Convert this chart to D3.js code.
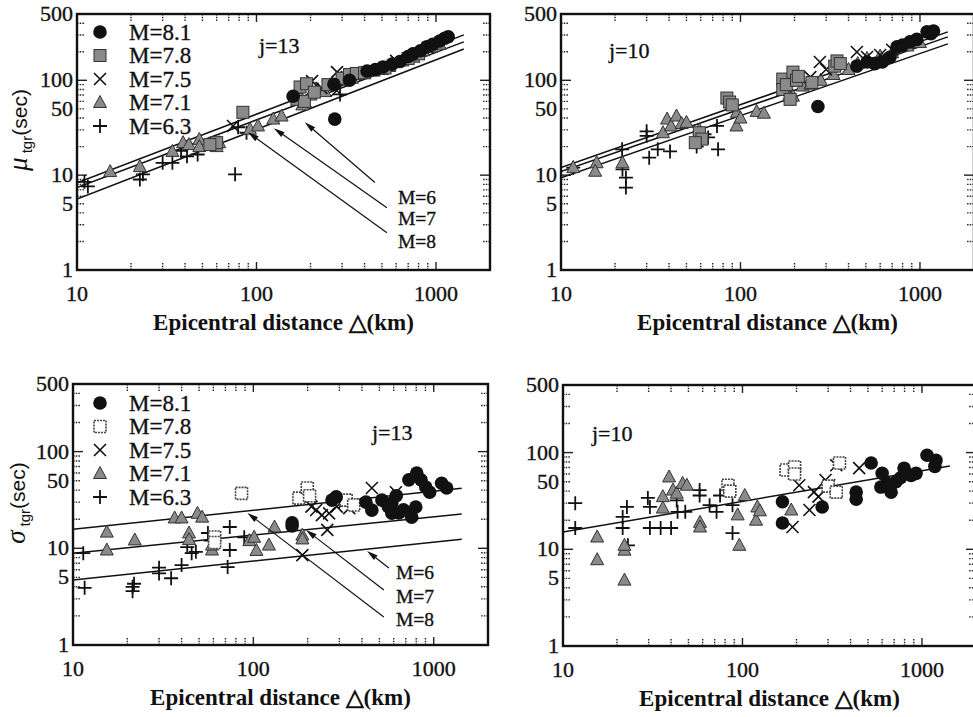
<!DOCTYPE html>
<html>
<head>
<meta charset="utf-8">
<script src="https://cdn.jsdelivr.net/npm/d3@7"></script>
<style>
  body { margin: 0; background: #fff; }
  svg { display: block; }
</style>
</head>
<body>
<svg id="fig" width="973" height="717"></svg>
<script>
// ---- categories and tick labels ----
const magnitudes = ["M=8.1", "M=7.8", "M=7.5", "M=7.1", "M=6.3"];
const markerKinds = ["circle", "square", "times", "triangle", "plus"];
const xTickLabels = [10, 100, 1000];
const yTickLabels = [1, 5, 10, 50, 100, 500];
const fitSpan = [10, 1430];          // distance range covered by fitted lines (km)

// ---- mean duration μ, j=13: [distance km, seconds] per magnitude ----
const muJ13_M81 = [[160,68],[270,91],[273,39],[330,100],[413,125],[460,130],[507,138],[570,148],[631,158],[700,178],[745,190],[820,205],[890,225],[960,240],[1050,260],[1120,278],[1170,288]];
const muJ13_M78 = [[84,46],[60,22],[55,21],[168,63],[175,85],[185,60],[190,92],[210,75],[250,90],[300,105],[330,115],[360,118],[400,120],[520,135],[700,170],[800,190]];
const muJ13_M75 = [[74,33],[204,98],[230,83],[281,122],[319,108],[350,115],[280,78],[600,160],[900,220]];
const muJ13_M71 = [[15.3,10.9],[22.4,12.3],[34,17.8],[39,22],[42,21],[48,23.8],[48,20],[60,20],[62,22],[92,30.5],[102,33],[124,39],[138,42],[180,55],[186,59],[200,70],[220,80],[240,76],[260,88],[300,100],[340,105],[380,118],[450,125],[500,130],[550,140],[650,160],[750,175],[850,205],[950,225],[1050,240]];
const muJ13_M63 = [[11.5,7.6],[11,8.5],[22.4,9],[23.3,10.2],[30,13.5],[34,13.5],[41,15.8],[47,16.5],[38,18],[76,10.2],[79,32],[88,28],[292,71]];

// ---- mean duration μ, j=10 ----
const muJ10_M81 = [[270,53],[445,141],[507,156],[560,150],[617,156],[680,175],[745,225],[800,235],[880,254],[960,270],[1095,324],[1150,310],[1190,330]];
const muJ10_M78 = [[84,65],[87,59],[90,55],[59,28],[61,24],[56,22],[172,103],[172,80],[180,90],[189,63],[196,122],[205,100],[210,110],[250,95],[335,141],[345,160],[360,150]];
const muJ10_M75 = [[245,108],[277,156],[300,130],[445,199],[507,176],[600,185],[700,210]];
const muJ10_M71 = [[11.7,12],[15.8,13.5],[15.5,11],[22,13.5],[37,28],[39,39],[41,33],[44,42],[47,35],[50,36],[59,30],[95.5,46],[95,33],[100,40],[123,47],[135,45],[186,68],[196,68],[222,87],[245,91],[280,100],[330,115],[400,130],[450,150],[507,170],[600,180],[700,195],[850,230],[1000,250]];
const muJ10_M63 = [[11.7,12],[21.9,18.7],[22,11.5],[23,9.4],[23,7.4],[30,29],[30,26],[31,15.3],[34.6,18.7],[40.5,17.8],[57,20],[63,27],[66,25],[74,33],[75,18.7]];

// ---- standard deviation σ, j=13 ----
const sdJ13_M81 = [[164,18.3],[164,17],[273,31.5],[288,34],[421,30],[454,24.8],[516,31.5],[560,27],[586,29.4],[586,23],[620,35],[641,23.2],[680,25],[728,51],[755,21],[795,26.7],[805,60],[850,51],[903,43],[950,38],[1106,47],[1180,42]];
const sdJ13_M78 = [[86,37],[179,33],[199,42],[205,35],[61,13.1],[61,11.5],[327,31.5],[360,28]];
const sdJ13_M75 = [[187,8.5],[210,27],[223,24.9],[240,22],[257,15.5],[263,23],[290,27],[320,30],[340,26],[454,42],[617,38]];
const sdJ13_M71 = [[15.4,14.7],[15.4,9.6],[22,12.2],[36.6,20.6],[40,20.6],[44,14.4],[44,12.3],[49,23],[52,21],[59,9.6],[59,10.8],[95,12],[101,13],[104,9.5],[122,10.8],[131,16.6],[187,13.7],[187,12.5]];
const sdJ13_M63 = [[11.4,8.9],[11.6,3.9],[21.4,4],[21.4,3.6],[21.8,4.3],[30,6.3],[30,5.5],[35,4.9],[40,6.7],[43,10.3],[45.5,8.9],[48,9.2],[56,14.4],[58,12],[74,16.6],[74,9.6],[72,6.4],[89,13]];

// ---- standard deviation σ, j=10 ----
const sdJ10_M81 = [[167,31],[167,18.7],[278,27.4],[430,39],[430,33],[521,78],[590,44],[600,61],[640,48],[673,39],[717,50],[760,55],[795,69],[870,58],[927,61],[1067,94],[1180,72],[1197,83]];
const sdJ10_M78 = [[175,66],[195,71],[195,60],[83,46],[85,40],[300,45],[333,39],[347,78]];
const sdJ10_M75 = [[190,17],[207,46],[236,25.5],[250,39],[265,35],[290,52],[304,46],[333,74],[447,69]];
const sdJ10_M71 = [[15.5,13.4],[15.5,7.8],[22,9.8],[22,4.8],[22,11],[36,26.7],[36,35],[39,56],[41,41],[43,38],[46.4,48],[49,46],[58,19],[58,17],[94,22.7],[96,11],[103,36],[119,20],[121,27.4],[125,25],[187,25.5]];
const sdJ10_M63 = [[11.7,30],[11.7,16.6],[21.5,21.6],[21.5,16.6],[22.7,27.4],[23,11],[29.7,34],[30.5,27.4],[30.5,16.6],[35,16.6],[40,16.6],[43,32],[43.5,24.4],[48,24.4],[57.7,41],[57.7,36],[65.6,28.6],[71.7,24.4],[75,36],[88,14.7],[88,28.6]];

// ---- fitted lines: value at each end of fitSpan, for M=6, 7, 8 ----
const fitMuJ13 = [[5.6, 214], [7.4, 254], [8.3, 301]];
const fitMuJ10 = [[9.4, 242], [10.9, 287], [12.0, 324]];
const fitSdJ13 = [[4.7, 12.4], [8.9, 22.6], [15.7, 41.7]];
const fitSdJ10 = [[15.1, 72.6]];

// ---- call-out arrows: text anchor, arrow tail, arrow head (data units) ----
const notesMu = [
  { text: "M=6", at: [614, 5.93], tail: [457, 8.35], head: [186, 36.1] },
  { text: "M=7", at: [614, 3.5], tail: [533, 4.54], head: [125, 31.2] },
  { text: "M=8", at: [614, 2.04], tail: [533, 2.47], head: [89.7, 28.3] }
];
const notesSd = [
  { text: "M=6", at: [617, 5.69], tail: [564, 6.26], head: [427, 9.38] },
  { text: "M=7", at: [617, 3.24], tail: [529, 3.7], head: [196, 15.5] },
  { text: "M=8", at: [617, 1.86], tail: [529, 1.95], head: [92.7, 23.2] }
];

// ---- panel layout ----
const SERIF = "'Liberation Serif', 'Times New Roman', serif";
const SANS = "'Liberation Sans', Arial, sans-serif";
const INK = "#111";
const GRAY = "#8a8a8a";

const panels = [
  { x: [77, 490], y: [270, 14], series: [muJ13_M81, muJ13_M78, muJ13_M75, muJ13_M71, muJ13_M63],
    fits: fitMuJ13, openSquare: false, legend: [100, 32], tag: "j=13", tagAt: [259, 53],
    ylab: "μ", ylabAt: [27, 130], notes: notesMu },
  { x: [561, 974], y: [270, 14], series: [muJ10_M81, muJ10_M78, muJ10_M75, muJ10_M71, muJ10_M63],
    fits: fitMuJ10, openSquare: false, legend: null, tag: "j=10", tagAt: [609, 58],
    ylab: null, notes: [] },
  { x: [73, 488], y: [645, 384], series: [sdJ13_M81, sdJ13_M78, sdJ13_M75, sdJ13_M71, sdJ13_M63],
    fits: fitSdJ13, openSquare: true, legend: [100, 403], tag: "j=13", tagAt: [372, 440],
    ylab: "σ", ylabAt: [25, 503], notes: notesSd },
  { x: [563, 976], y: [646, 385], series: [sdJ10_M81, sdJ10_M78, sdJ10_M75, sdJ10_M71, sdJ10_M63],
    fits: fitSdJ10, openSquare: true, legend: null, tag: "j=10", tagAt: [592, 441],
    ylab: null, notes: [] }
];

const svg = d3.select("#fig");
svg.append("rect").attr("width", 973).attr("height", 717).attr("fill", "#fff");

// printed-serif text: a hairline stroke gives the heavier letterpress weight
function serifText(sel, size) {
  return sel.attr("font-family", SERIF).attr("font-size", size).attr("fill", INK)
    .attr("stroke", INK).attr("stroke-width", 0.35);
}

function drawMarker(g, kind, open) {
  switch (kind) {
    case "circle":
      g.append("circle").attr("r", 6.8).attr("fill", INK);
      break;
    case "square":
      g.append("rect").attr("x", -6).attr("y", -6).attr("width", 12).attr("height", 12)
        .attr("fill", open ? "#fff" : GRAY).attr("stroke", open ? "#444" : "#333")
        .attr("stroke-width", open ? 1.6 : 1).attr("stroke-dasharray", open ? "2,1" : null);
      break;
    case "times":
      g.append("path").attr("d", "M-6,-6L6,6M-6,6L6,-6").attr("stroke", INK)
        .attr("stroke-width", 1.6).attr("fill", "none");
      break;
    case "triangle":
      g.append("path").attr("d", "M0,-7L6.5,5L-6.5,5Z").attr("fill", GRAY)
        .attr("stroke", "#333").attr("stroke-width", 1);
      break;
    case "plus":
      g.append("path").attr("d", "M-7,0H7M0,-7V7").attr("stroke", INK)
        .attr("stroke-width", 1.8).attr("fill", "none");
      break;
  }
}

panels.forEach((p, pi) => {
  const x = d3.scaleLog().domain([10, 2000]).range(p.x);
  const y = d3.scaleLog().domain([1, 500]).range(p.y);
  const g = svg.append("g");

  const clipId = "clip" + pi;
  svg.append("clipPath").attr("id", clipId).append("rect")
    .attr("x", p.x[0]).attr("y", p.y[1]).attr("width", p.x[1] - p.x[0]).attr("height", p.y[0] - p.y[1]);

  // ticks, drawn inward on all four sides
  const isMajor = v => Math.abs(Math.log10(v) - Math.round(Math.log10(v))) < 1e-9;
  const tk = g.append("g").attr("stroke", "#222").attr("stroke-width", 1.4);
  x.ticks().filter(v => v > 10 && v < 2000).forEach(v => {
    const dash = isMajor(v) ? null : "1.5,1.2";
    const len = 8;
    tk.append("line").attr("x1", x(v)).attr("x2", x(v)).attr("y1", p.y[0]).attr("y2", p.y[0] - len).attr("stroke-dasharray", dash);
    tk.append("line").attr("x1", x(v)).attr("x2", x(v)).attr("y1", p.y[1]).attr("y2", p.y[1] + len).attr("stroke-dasharray", dash);
  });
  y.ticks().filter(v => v > 1 && v < 500).forEach(v => {
    const dash = isMajor(v) ? null : "1.5,1.2";
    const len = isMajor(v) ? 10 : 7;
    tk.append("line").attr("y1", y(v)).attr("y2", y(v)).attr("x1", p.x[0]).attr("x2", p.x[0] + len).attr("stroke-dasharray", dash);
    tk.append("line").attr("y1", y(v)).attr("y2", y(v)).attr("x1", p.x[1]).attr("x2", p.x[1] - len).attr("stroke-dasharray", dash);
  });

  // fitted lines
  const plot = g.append("g").attr("clip-path", `url(#${clipId})`);
  plot.selectAll("line.fit").data(p.fits).join("line").attr("class", "fit")
    .attr("x1", x(fitSpan[0])).attr("x2", x(fitSpan[1]))
    .attr("y1", d => y(d[0])).attr("y2", d => y(d[1]))
    .attr("stroke", INK).attr("stroke-width", 1.5);

  // data markers, smallest magnitude first so the large events sit on top
  for (let k = p.series.length - 1; k >= 0; k--) {
    const kind = markerKinds[k];
    plot.append("g").selectAll("g").data(p.series[k]).join("g")
      .attr("transform", d => `translate(${x(d[0])},${y(d[1])})`)
      .each(function () { drawMarker(d3.select(this), kind, p.openSquare); });
  }

  // frame
  g.append("rect").attr("x", p.x[0]).attr("y", p.y[1]).attr("width", p.x[1] - p.x[0])
    .attr("height", p.y[0] - p.y[1]).attr("fill", "none").attr("stroke", INK).attr("stroke-width", 2.4);

  // tick labels
  serifText(g.append("g").selectAll("text").data(xTickLabels).join("text")
    .attr("x", d => x(d)).attr("y", p.y[0] + 31).attr("text-anchor", "middle"), 22).text(d => d);
  serifText(g.append("g").selectAll("text").data(yTickLabels).join("text")
    .attr("x", p.x[0] - 4).attr("y", d => y(d) + 7).attr("text-anchor", "end"), 22).text(d => d);

  // x axis title
  g.append("text").attr("x", (p.x[0] + p.x[1]) / 2).attr("y", p.y[0] + 60)
    .attr("text-anchor", "middle").attr("font-family", SERIF).attr("font-weight", "bold")
    .attr("font-size", 23).attr("fill", INK).text("Epicentral distance △(km)");

  // y axis title
  if (p.ylab) {
    const t = g.append("text").attr("transform", `translate(${p.ylabAt[0]},${p.ylabAt[1]}) rotate(-90)`)
      .attr("text-anchor", "middle").attr("fill", INK);
    t.append("tspan").attr("font-family", SERIF).attr("font-style", "italic").attr("font-size", 27).text(p.ylab);
    t.append("tspan").attr("font-family", SANS).attr("font-size", 15).attr("dy", 5).attr("dx", 4).text("tgr");
    t.append("tspan").attr("font-family", SANS).attr("font-size", 21).attr("dy", -5).text("(sec)");
  }

  // j tag
  serifText(g.append("text").attr("x", p.tagAt[0]).attr("y", p.tagAt[1]), 22).text(p.tag);

  // legend
  if (p.legend) {
    const lg = g.append("g");
    magnitudes.forEach((m, k) => {
      const row = lg.append("g").attr("transform", `translate(${p.legend[0]},${p.legend[1] + k * 23.5})`);
      drawMarker(row, markerKinds[k], p.openSquare);
      serifText(row.append("text").attr("x", 29).attr("y", 7.5), 23).text(m);
    });
  }

  // call-outs to the fitted lines
  p.notes.forEach(n => {
    const x1 = x(n.tail[0]), y1 = y(n.tail[1]), x2 = x(n.head[0]), y2 = y(n.head[1]);
    const ang = Math.atan2(y2 - y1, x2 - x1);
    const L = 11, W = 3;
    const bx = x2 - L * Math.cos(ang), by = y2 - L * Math.sin(ang);
    g.append("line").attr("x1", x1).attr("y1", y1).attr("x2", bx).attr("y2", by)
      .attr("stroke", INK).attr("stroke-width", 1.2);
    g.append("path").attr("d", `M${x2},${y2}L${bx + W * Math.sin(ang)},${by - W * Math.cos(ang)}L${bx - W * Math.sin(ang)},${by + W * Math.cos(ang)}Z`)
      .attr("fill", INK);
    serifText(g.append("text").attr("x", x(n.at[0])).attr("y", y(n.at[1]) + 7), 19.5).text(n.text);
  });
});
</script>
</body>
</html>
